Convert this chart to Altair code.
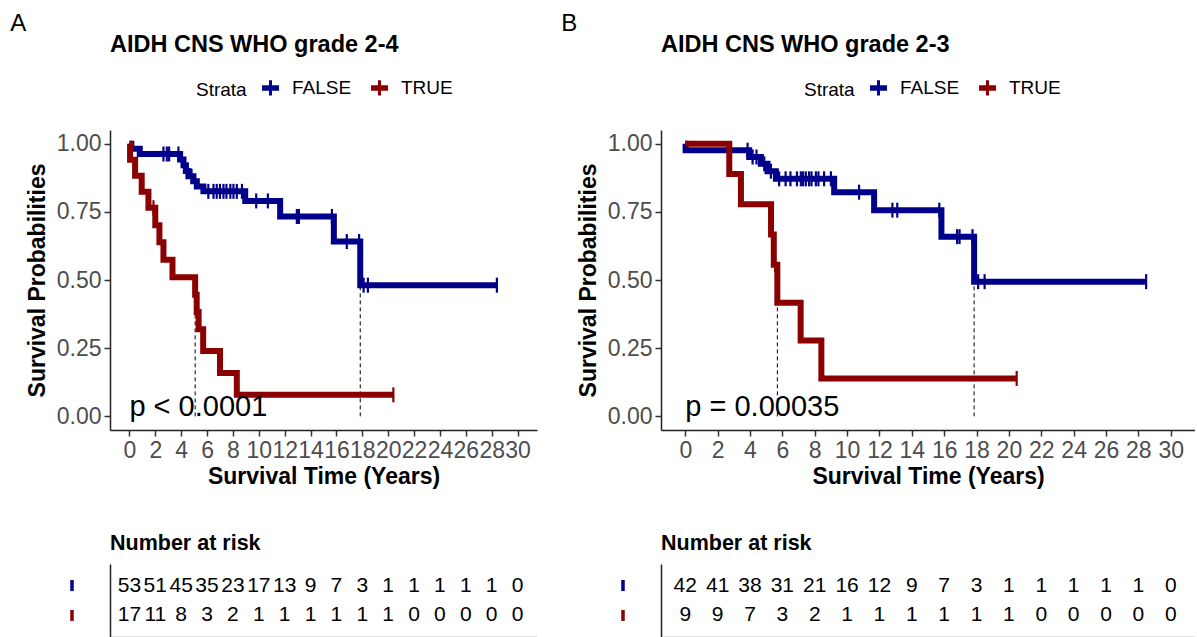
import altair as alt
import pandas as pd

FONT = "Liberation Sans"
STRATA = ["FALSE", "TRUE"]
COLORS = ["#00008B", "#8B0000"]
TIME_TICKS = list(range(0, 31, 2))
SURV_TICKS = [0.0, 0.25, 0.5, 0.75, 1.0]

# ---- Panel A: AIDH CNS WHO grade 2-4 ----
a_false_time = [0, 0.15, 0.8, 3.92, 4.18, 4.36, 4.56, 4.95, 5.21, 5.72, 8.95, 11.65, 15.8, 17.84, 28.4]
a_false_surv = [1.0, 0.981, 0.962, 0.942, 0.921, 0.900, 0.880, 0.862, 0.843, 0.825, 0.790, 0.733, 0.641, 0.481, 0.481]
a_false_cens = [2.63, 2.89, 3.07, 3.79, 4.5, 4.8, 6.1, 6.5, 6.75, 7.0, 7.27, 7.5, 7.8, 8.04, 8.3, 8.7,
                9.8, 10.7, 12.94, 13.1, 15.65, 16.8, 17.75, 18.1, 18.43, 28.4]
a_true_time = [0, 0.05, 0.44, 0.95, 1.47, 2.0, 2.32, 2.63, 3.33, 5.08, 5.2, 5.35, 5.7, 7.0, 8.3, 20.4]
a_true_surv = [1.0, 0.941, 0.882, 0.824, 0.765, 0.701, 0.638, 0.574, 0.510, 0.446, 0.383, 0.319, 0.240, 0.159, 0.079, 0.079]
a_true_cens = [1.86, 20.4]
a_medians = [5.08, 17.84]
a_pval = "p < 0.0001"
a_risk_false = [53, 51, 45, 35, 23, 17, 13, 9, 7, 3, 1, 1, 1, 1, 1, 0]
a_risk_true = [17, 11, 8, 3, 2, 1, 1, 1, 1, 1, 1, 0, 0, 0, 0, 0]

# ---- Panel B: AIDH CNS WHO grade 2-3 ----
b_false_time = [0, 0.02, 3.95, 4.67, 5.08, 5.6, 9.2, 11.67, 15.83, 17.85, 28.48]
b_false_surv = [1.0, 0.976, 0.951, 0.926, 0.899, 0.871, 0.822, 0.756, 0.659, 0.494, 0.494]
b_false_cens = [3.85, 4.16, 4.4, 4.88, 5.29, 5.8, 6.2, 6.5, 6.9, 7.14, 7.28, 7.45, 7.65, 7.8, 8.07, 8.23,
                8.58, 9.0, 10.74, 12.8, 13.1, 15.7, 16.8, 16.95, 17.75, 18.1, 18.5, 28.48]
b_true_time = [0, 2.72, 3.44, 5.3, 5.47, 5.69, 7.13, 8.41, 20.48]
b_true_surv = [1.0, 0.889, 0.778, 0.667, 0.556, 0.417, 0.278, 0.139, 0.139]
b_true_cens = [5.55, 20.48]
b_medians = [5.69, 17.85]
b_pval = "p = 0.00035"
b_risk_false = [42, 41, 38, 31, 21, 16, 12, 9, 7, 3, 1, 1, 1, 1, 1, 0]
b_risk_true = [9, 9, 7, 3, 2, 1, 1, 1, 1, 1, 1, 0, 0, 0, 0, 0]

# legend key: thick horizontal bar crossed by a censor tick
KEY_PATH = "M-1,-0.18H1V0.18H-1Z M0,-1.1V1.1"


def surv_at(times, survs, t):
    s = survs[0]
    for ti, si in zip(times, survs):
        if ti <= t:
            s = si
        else:
            break
    return s


def curve_frame(groups):
    rows = []
    for name, times, survs in groups:
        rows += [{"strata": name, "time": t, "surv": s} for t, s in zip(times, survs)]
    return pd.DataFrame(rows)


def censor_frame(groups):
    rows = []
    for name, times, survs, cens in groups:
        rows += [{"strata": name, "time": c, "surv": surv_at(times, survs, c)} for c in cens]
    return pd.DataFrame(rows)


def km_chart(curves, censors, medians, pval, title, plot_w, legend_x):
    xs = alt.Scale(domain=[-1.5, 31.5], nice=False, zero=False)
    ys = alt.Scale(domain=[-0.05, 1.05], nice=False, zero=False)
    cs = alt.Scale(domain=STRATA, range=COLORS)
    x_axis = alt.Axis(values=TIME_TICKS, title="Survival Time (Years)", labelOverlap=False,
                      labelFlush=False, labelFontSize=23, labelColor="#4D4D4D", tickSize=6,
                      tickColor="#333333", tickWidth=1.5, domainColor="#222222", domainWidth=1.5,
                      labelPadding=3, titleFontSize=23, titleFontWeight="bold", titleColor="black",
                      titlePadding=3, grid=False)
    y_axis = alt.Axis(values=SURV_TICKS, format=".2f", title="Survival Probabilities",
                      labelFontSize=23, labelColor="#4D4D4D", tickSize=6, tickColor="#333333",
                      tickWidth=1.5, domainColor="#222222", domainWidth=1.5, labelPadding=3,
                      titleFontSize=23, titleFontWeight="bold", titleColor="black", titlePadding=7,
                      grid=False)
    legend = alt.Legend(title="Strata", orient="none", legendX=legend_x, legendY=-52,
                        direction="horizontal", titleOrient="left", titleFontSize=19,
                        titleFontWeight="normal", titleColor="black", titleFont=FONT,
                        labelFontSize=19, labelColor="black", labelFont=FONT,
                        symbolType=KEY_PATH, symbolSize=196, symbolStrokeWidth=3, symbolOpacity=1,
                        labelOffset=12, columnPadding=14, titlePadding=14)

    X = alt.X("time:Q", scale=xs, axis=x_axis)
    med_df = pd.DataFrame({"time": medians, "lo": [0.0] * len(medians), "hi": [0.5] * len(medians)})
    rules = alt.Chart(med_df).mark_rule(color="black", strokeWidth=1, strokeDash=[4, 3]).encode(
        x=X, y=alt.Y("lo:Q", scale=ys, axis=y_axis), y2="hi:Q",
    )
    lines = alt.Chart(curves).mark_line(interpolate="step-after", strokeWidth=6).encode(
        x=X,
        y=alt.Y("surv:Q", scale=ys, axis=y_axis),
        color=alt.Color("strata:N", scale=cs, legend=legend),
    )
    ticks = alt.Chart(censors).mark_tick(orient="vertical", size=15, thickness=2.2, opacity=1).encode(
        x=X,
        y=alt.Y("surv:Q", scale=ys, axis=y_axis),
        color=alt.Color("strata:N", scale=cs, legend=legend),
    )
    ptext = alt.Chart(pd.DataFrame({"label": [pval]})).mark_text(
        align="left", baseline="alphabetic", fontSize=29, font=FONT, color="black"
    ).encode(x=alt.XDatum(0, scale=xs, axis=x_axis), y=alt.YDatum(0, scale=ys, axis=y_axis),
             text="label:N")

    return alt.layer(rules, lines, ticks, ptext).properties(
        width=plot_w, height=300,
        title=alt.TitleParams(title, anchor="start", frame="group", fontSize=23.5,
                              fontWeight="bold", font=FONT, color="black", offset=22),
    )


def risk_chart(risk_false, risk_true, plot_w):
    xs = alt.Scale(domain=[-1.5, 31.5], nice=False, zero=False)
    ys = alt.Scale(type="point", domain=STRATA, padding=0.72)
    cs = alt.Scale(domain=STRATA, range=COLORS)
    rows = [{"strata": "FALSE", "time": t, "n": n} for t, n in zip(TIME_TICKS, risk_false)]
    rows += [{"strata": "TRUE", "time": t, "n": n} for t, n in zip(TIME_TICKS, risk_true)]
    df = pd.DataFrame(rows)
    y_axis = alt.Axis(labels=False, ticks=False, title=None, domainColor="#222222",
                      domainWidth=1.5, grid=False)
    nums = alt.Chart(df).mark_text(fontSize=21, font=FONT, color="black").encode(
        x=alt.X("time:Q", scale=xs, axis=alt.Axis(labels=False, ticks=False, title=None,
                                                 domainColor="#999999", domainWidth=1.5, grid=False)),
        y=alt.Y("strata:N", scale=ys, axis=y_axis),
        text="n:Q",
    )
    keys = alt.Chart(pd.DataFrame({"strata": STRATA})).mark_tick(
        orient="vertical", size=11, thickness=3.5, opacity=1
    ).encode(
        x=alt.value(-38),
        y=alt.Y("strata:N", scale=ys, axis=y_axis),
        color=alt.Color("strata:N", scale=cs, legend=None),
    )
    return alt.layer(nums, keys).properties(
        width=plot_w, height=73,
        title=alt.TitleParams("Number at risk", anchor="start", frame="group", fontSize=21.5,
                              fontWeight="bold", font=FONT, color="black", offset=10),
    )


def panel(letter, km, risk):
    return alt.vconcat(km, risk, spacing=44, title=alt.TitleParams(
        letter, anchor="start", fontSize=24, fontWeight="normal", font=FONT, color="black",
        dx=-16, offset=-3)).resolve_scale(color="independent").resolve_legend(color="independent")


km_a = km_chart(
    curve_frame([("FALSE", a_false_time, a_false_surv), ("TRUE", a_true_time, a_true_surv)]),
    censor_frame([("FALSE", a_false_time, a_false_surv, a_false_cens),
                  ("TRUE", a_true_time, a_true_surv, a_true_cens)]),
    a_medians, a_pval, "AIDH CNS WHO grade 2-4", 427, 86)
km_b = km_chart(
    curve_frame([("FALSE", b_false_time, b_false_surv), ("TRUE", b_true_time, b_true_surv)]),
    censor_frame([("FALSE", b_false_time, b_false_surv, b_false_cens),
                  ("TRUE", b_true_time, b_true_surv, b_true_cens)]),
    b_medians, b_pval, "AIDH CNS WHO grade 2-3", 534, 143)

chart = alt.hconcat(
    panel("A", km_a, risk_chart(a_risk_false, a_risk_true, 427)),
    panel("B", km_b, risk_chart(b_risk_false, b_risk_true, 534)),
    spacing=24,
).resolve_scale(color="independent").resolve_legend(color="independent").properties(
    padding={"left": 10, "top": 11, "right": 0, "bottom": 0}
).configure_view(stroke=None).configure_axis(labelFont=FONT, titleFont=FONT)

chart.save("out.html", embed_options={"renderer": "svg", "actions": False})
